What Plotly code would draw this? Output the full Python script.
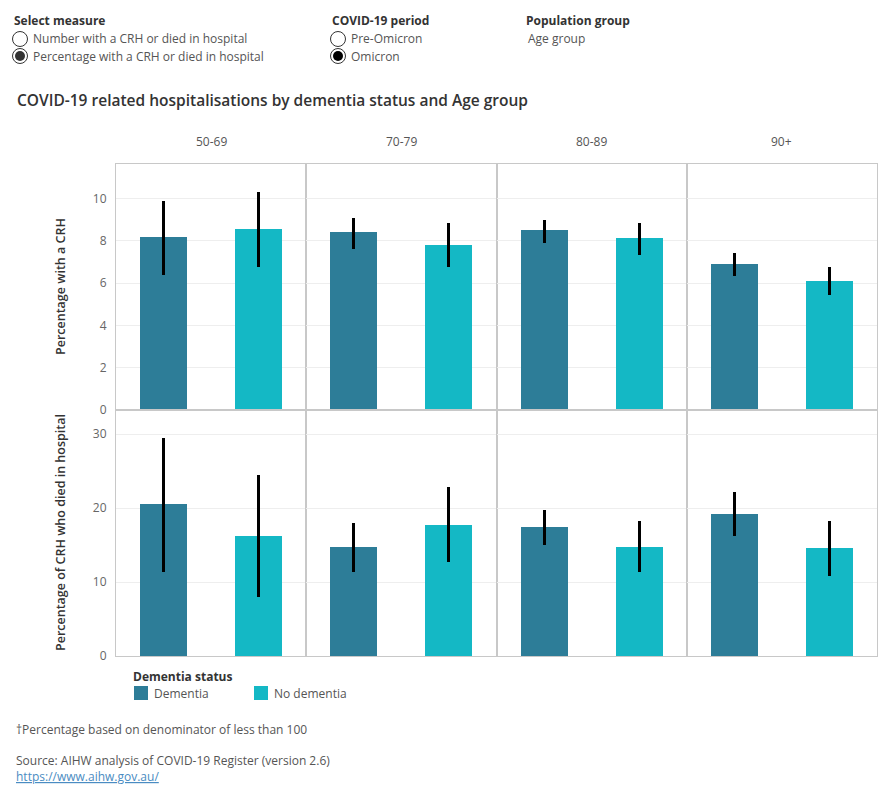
import plotly.graph_objects as go

# ---------------- data ----------------
age_groups = ["50-69", "70-79", "80-89", "90+"]
status = ["Dementia", "No dementia"]

crh_dementia = [8.2, 8.4, 8.5, 6.9]
crh_dementia_hi = [9.9, 9.1, 9.0, 7.4]
crh_dementia_lo = [6.4, 7.6, 7.9, 6.35]
crh_nodem = [8.55, 7.8, 8.15, 6.1]
crh_nodem_hi = [10.3, 8.85, 8.85, 6.75]
crh_nodem_lo = [6.75, 6.75, 7.35, 5.45]

died_dementia = [20.6, 14.8, 17.5, 19.2]
died_dementia_hi = [29.5, 18.0, 19.7, 22.1]
died_dementia_lo = [11.4, 11.4, 15.0, 16.2]
died_nodem = [16.25, 17.7, 14.8, 14.6]
died_nodem_hi = [24.4, 22.8, 18.2, 18.3]
died_nodem_lo = [8.0, 12.7, 11.35, 10.85]

top_ticks = [0, 2, 4, 6, 8, 10]
bottom_ticks = [0, 10, 20, 30]

# ---------------- style ----------------
W, H = 890, 800
L, R, T, B = 116, 877, 164, 656
FONT = "Open Sans"
C_DEM = "#2d7d98"
C_NODEM = "#14b8c5"
BORDER = "#c8c8c8"
GRID = "#eeeeee"
colors = [C_DEM, C_NODEM]


def px(x):
    return (x - L) / (R - L)


def py(y):
    return (B - y) / (B - T)


fig = go.Figure()

rows = [
    (crh_dementia, crh_dementia_hi, crh_dementia_lo, crh_nodem, crh_nodem_hi, crh_nodem_lo, [0, 11.63], top_ticks),
    (died_dementia, died_dementia_hi, died_dementia_lo, died_nodem, died_nodem_hi, died_nodem_lo, [0, 33.25], bottom_ticks),
]

ncol = len(age_groups)
layout_axes = {}
for r, (dv, dhi, dlo, nv, nhi, nlo, yr, ticks) in enumerate(rows):
    ydom = [0.5, 1.0] if r == 0 else [0.0, 0.5]
    for c in range(ncol):
        idx = r * ncol + c + 1
        xa = "x" if idx == 1 else f"x{idx}"
        ya = "y" if idx == 1 else f"y{idx}"
        xd = [c / ncol, (c + 1) / ncol]
        vals = [dv[c], nv[c]]
        his = [dhi[c] - dv[c], nhi[c] - nv[c]]
        los = [dv[c] - dlo[c], nv[c] - nlo[c]]
        for k, (s, col) in enumerate(zip(status, colors)):
            fig.add_trace(go.Bar(
                x=[s], y=[vals[k]], xaxis=xa, yaxis=ya,
                marker=dict(color=col, line=dict(width=0)),
                width=0.5, name=s, showlegend=False,
                error_y=dict(type="data", array=[his[k]], arrayminus=[los[k]],
                             color="black", thickness=3, width=0),
            ))
        layout_axes["xaxis" + ("" if idx == 1 else str(idx))] = dict(
            domain=xd, anchor=ya, type="category", categoryorder="array",
            categoryarray=status, range=[-0.5, 1.5], showticklabels=False,
            showgrid=False, zeroline=False, showline=True, linecolor=BORDER,
            linewidth=1, mirror=True, ticks="", fixedrange=True,
        )
        layout_axes["yaxis" + ("" if idx == 1 else str(idx))] = dict(
            domain=ydom, anchor=xa, range=yr, tickvals=ticks,
            showticklabels=(c == 0), showgrid=True, gridcolor=GRID, gridwidth=1,
            zeroline=False, showline=True, linecolor=BORDER, linewidth=1,
            mirror=True, ticks="", ticklabelstandoff=6,
            tickfont=dict(family=FONT, size=12, color="#666666"),
            fixedrange=True,
        )

annotations = []
# column headers
for c, g in enumerate(age_groups):
    annotations.append(dict(
        text=g, xref="paper", yref="paper", x=(c + 0.5) / ncol, y=py(141),
        xanchor="center", yanchor="middle", showarrow=False,
        font=dict(family=FONT, size=12, color="#555555"),
    ))

# y-axis titles
for text, yc in [("Percentage with a CRH", 0.75), ("Percentage of CRH who died in hospital", 0.25)]:
    annotations.append(dict(text=text, xref="paper", yref="paper",
                            x=px(60), y=yc, textangle=-90, showarrow=False,
                            xanchor="center", yanchor="middle",
                            font=dict(family=FONT, size=12.5, color="#333333", weight=600)))


def txt(s, x, y, size=12, color="#555555", weight=400, anchor="left"):
    annotations.append(dict(
        text=s, xref="paper", yref="paper",
        x=px(x), y=py(y), xanchor=anchor, yanchor="middle", showarrow=False,
        font=dict(family=FONT, size=size, color=color, weight=weight),
    ))


# controls
txt("Select measure", 12, 21, color="#333333", weight=700)
txt("Number with a CRH or died in hospital", 31, 39)
txt("Percentage with a CRH or died in hospital", 31, 56)
txt("COVID-19 period", 330, 21, color="#333333", weight=700)
txt("Pre-Omicron", 349, 39)
txt("Omicron", 349, 56)
txt("Population group", 524, 21, color="#333333", weight=700)
txt("Age group", 526, 39)

# title
txt("COVID-19 related hospitalisations by dementia status and Age group", 15, 100,
    size=15.5, color="#333333", weight=600)

# legend (drawn manually)
txt("Dementia status", 131, 676, color="#333333", weight=700)
shapes = []
legend_x = [134, 254]
for s, col, lx in zip(status, colors, legend_x):
    shapes.append(dict(type="rect", xref="paper", yref="paper",
                       x0=px(lx), x1=px(lx + 14), y0=py(700), y1=py(686),
                       line=dict(width=0), fillcolor=col))
    txt(s, lx + 18, 693)

# footnotes
txt("†Percentage based on denominator of less than 100", 14, 729)
txt("Source: AIHW analysis of COVID-19 Register (version 2.6)", 14, 760)
txt("<u>https://www.aihw.gov.au/</u>", 14, 776, color="#4a8cc2")


def radio(cx, cy, filled, dot_color):
    shapes.append(dict(type="circle", xref="paper", yref="paper",
                       xsizemode="pixel", ysizemode="pixel",
                       xanchor=px(cx), yanchor=py(cy),
                       x0=-7.5, x1=7.5, y0=-7.5, y1=7.5,
                       line=dict(color="#333333", width=1), fillcolor="white"))
    if filled:
        shapes.append(dict(type="circle", xref="paper", yref="paper",
                           xsizemode="pixel", ysizemode="pixel",
                           xanchor=px(cx), yanchor=py(cy),
                           x0=-5, x1=5, y0=-5, y1=5,
                           line=dict(width=0), fillcolor=dot_color))


radio(20, 39, False, None)
radio(20, 56, True, "#333333")
radio(338, 39, False, None)
radio(338, 56, True, "#000000")

fig.update_layout(
    width=W, height=H,
    margin=dict(l=L, r=W - R, t=T, b=H - B, autoexpand=False),
    paper_bgcolor="white", plot_bgcolor="white",
    barmode="group", bargap=0,
    font=dict(family=FONT, size=12, color="#555555"),
    showlegend=False,
    annotations=annotations,
    shapes=shapes,
    **layout_axes,
)

fig.write_html("out.html")
